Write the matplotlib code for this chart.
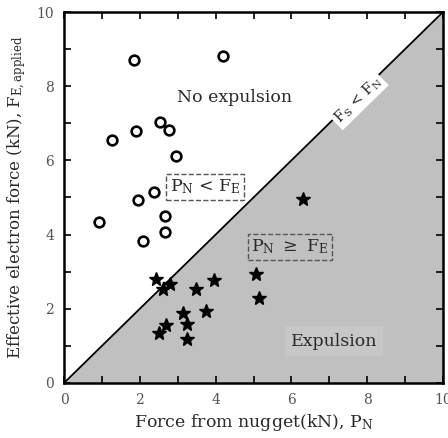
import numpy as np
import matplotlib
matplotlib.use("Agg")
import matplotlib.pyplot as plt

plt.rcParams["font.family"] = "DejaVu Serif"
plt.rcParams["mathtext.fontset"] = "dejavuserif"

# ── Data (kN) ──
# no expulsion (open circles)
no_exp_pn = [1.85, 4.20, 1.27, 1.90, 2.53, 2.77, 2.96, 2.37, 1.95, 0.92, 2.66, 2.66, 2.08]
no_exp_fe = [8.71, 8.81, 6.55, 6.79, 7.04, 6.82, 6.12, 5.15, 4.93, 4.34, 4.50, 4.07, 3.83]
# expulsion (stars)
exp_pn = [2.43, 2.61, 2.80, 3.48, 3.96, 5.07, 5.15, 3.14, 3.75, 2.69, 3.25, 2.51, 3.25, 6.31]
exp_fe = [2.80, 2.53, 2.67, 2.53, 2.78, 2.94, 2.29, 1.89, 1.94, 1.56, 1.59, 1.35, 1.19, 4.96]

limit = [0, 10]
ticks = np.arange(0, 11, 1)
tick_labels = ["0", "", "2", "", "4", "", "6", "", "8", "", "10"]

fig = plt.figure(figsize=(4.48, 4.38), dpi=100)
ax = fig.add_axes([0.1429, 0.1256, 0.8459, 0.847])

# expulsion region below P_N = F_E
ax.fill_between(limit, [0, 0], limit, color="#c0c0c0", lw=0, zorder=0)
ax.plot(limit, limit, color="black", lw=1.3, zorder=1)

ax.plot(no_exp_pn, no_exp_fe, "o", ms=7, mfc="white", mec="black", mew=1.9, zorder=3)
ax.plot(exp_pn, exp_fe, "*", ms=10, color="black", zorder=3)

txt = "#2a2a2a"
ax.text(4.5, 7.7, "No expulsion", ha="center", va="center", fontsize=12.5, color=txt)
ax.text(7.12, 1.13, "Expulsion", ha="center", va="center", fontsize=12.5, color=txt,
        bbox=dict(boxstyle="square,pad=0.35", fc="#c7c7c7", ec="none"))
ax.text(3.72, 5.28, r"P$_\mathrm{N}$ < F$_\mathrm{E}$", ha="center", va="center",
        fontsize=12.5, color=txt,
        bbox=dict(boxstyle="square,pad=0.2", fc="white", ec="#555555", ls="--", lw=1))
ax.text(5.96, 3.67, r"P$_\mathrm{N}$ $\geq$ F$_\mathrm{E}$", ha="center", va="center",
        fontsize=12.5, color=txt,
        bbox=dict(boxstyle="square,pad=0.2", fc="none", ec="#555555", ls="--", lw=1))
ax.text(7.76, 7.63, r"F$_\mathrm{S}$ < F$_\mathrm{N}$", ha="center", va="center",
        fontsize=10.5, color=txt, rotation=44.4, rotation_mode="anchor",
        bbox=dict(boxstyle="square,pad=0.15", fc="white", ec="none"))

ax.set_xlim(limit)
ax.set_ylim(limit)
ax.set_xticks(ticks)
ax.set_yticks(ticks)
ax.set_xticklabels(tick_labels)
ax.set_yticklabels(tick_labels)
ax.tick_params(direction="in", length=5, width=1.2, top=True, right=True,
               labelsize=10, labelcolor="#555555", pad=7)
for s in ax.spines.values():
    s.set_linewidth(1.8)

ax.set_xlabel(r"Force from nugget(kN), P$_\mathrm{N}$", fontsize=12.5, color=txt, labelpad=4)
ax.set_ylabel(r"Effective electron force (kN), F$_\mathrm{E,applied}$", fontsize=12,
              color=txt, labelpad=6)

fig.savefig("out.png", dpi=100)
